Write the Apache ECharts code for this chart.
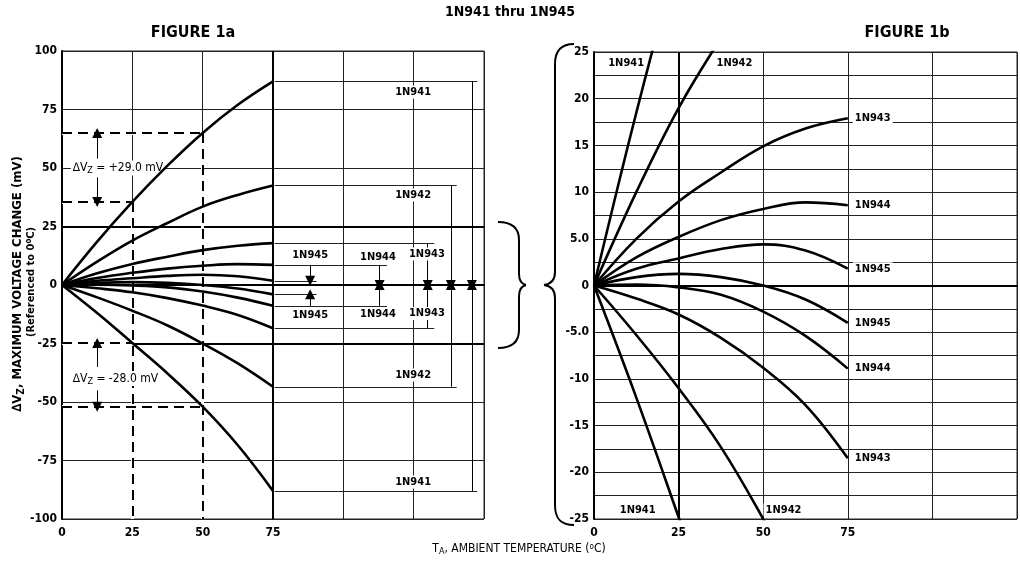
<!DOCTYPE html>
<html>
<head>
<meta charset="utf-8">
<script src="https://cdn.jsdelivr.net/npm/echarts@6/dist/echarts.min.js"></script>
<style>html,body{margin:0;background:#fff}#main{width:1020px;height:563px}</style>
</head>
<body>
<div id="main"></div>
<script>
var FONT = '"Liberation Sans Narrow", "DejaVu Sans Condensed", Roboto, sans-serif';

// temperatures (deg C) where the curves were read
var temps = [0, 12.5, 25, 37.5, 50, 62.5, 75];

// max voltage change (mV), upper and lower limit per device
var up941 = [0, 18.5, 35.5, 51, 65, 77, 87];
var up942 = [0, 10, 19, 26.5, 33.5, 38.5, 42.5];
var up943 = [0, 5, 9, 12.1, 14.9, 16.8, 17.9];
var up944 = [0, 3, 5.2, 7.0, 8.2, 8.9, 8.6];
var up945 = [0, 1.8, 2.9, 3.9, 4.4, 3.75, 1.8];
var lo945 = [0, 0.9, 1.25, 0.9, 0, -1.5, -4.0];
var lo944 = [0, 0.1, -0.2, -1.0, -2.8, -5.4, -8.9];
var lo943 = [0, -1.4, -3.1, -5.6, -8.8, -12.8, -18.5];
var lo942 = [0, -5.3, -11, -17.3, -25, -33.5, -43.5];
var lo941 = [0, -12, -24.8, -37.8, -52, -68.5, -88];

var devices = ['1N941', '1N942', '1N943', '1N944', '1N945'];
var upper = [up941, up942, up943, up944, up945];
var lower = [lo941, lo942, lo943, lo944, lo945];

// tick labels
var xLabels = ['0', '25', '50', '75'];
var yLabelsA = ['-100', '-75', '-50', '-25', '0', '25', '50', '75', '100'];
var yLabelsB = ['-25', '-20', '-15', '-10', '-5.0', '0', '5.0', '10', '15', '20', '25'];

// fig 1a: x where the leader lines stop and where the arrows stand
var leaderEnd = [147.6, 140.3, 132.3, 115.5, 90.5];
var arrowX = [145.7, 138.2, 130, 112.9, 88.2];

var chart = echarts.init(document.getElementById('main'));

function pairs(ys) {
    return temps.map(function (t, i) { return [t, ys[i]]; });
}
function last(a) { return a[a.length - 1]; }

function fmt(list) {
    return function (v) {
        var s = String(v);
        if (Math.abs(v) === 5) s = v < 0 ? '-5.0' : '5.0';
        return list.indexOf(s) >= 0 ? s : '';
    };
}

var labelFont = {fontFamily: FONT, fontSize: 11, fontWeight: 'bold', color: '#000'};
var gridLine = {lineStyle: {color: '#222', width: 1}};

function curve(name, ys, k, withLabel) {
    return {
        name: name, type: 'line', xAxisIndex: k, yAxisIndex: k,
        data: pairs(ys), smooth: 0.4, symbol: 'none', silent: true, clip: true,
        lineStyle: {color: '#000', width: 2.6},
        endLabel: withLabel ? Object.assign({
            show: true, formatter: name, distance: 5,
            backgroundColor: '#fff', padding: [1, 2]
        }, labelFont) : {show: false},
        z: 5
    };
}

var series = [];
devices.forEach(function (d, i) {
    series.push(curve(d, upper[i], 0, false));
    series.push(curve(d, lower[i], 0, false));
    series.push(curve(d, upper[i], 1, i >= 2));
    series.push(curve(d, lower[i], 1, i >= 2));
});

function seg(x1, y1, x2, y2) { return [{coord: [x1, y1]}, {coord: [x2, y2]}]; }
function arrow(x, from, to) { return seg(x, from, x, to); }

// fig 1a: leader lines, arrows and thick lines
var thin = [], arrows = [], thick = [];
devices.forEach(function (d, i) {
    thin.push(seg(75.6, last(upper[i]), leaderEnd[i], last(upper[i])));
    thin.push(seg(75.6, last(lower[i]), leaderEnd[i], last(lower[i])));
    if (i < 4) {
        arrows.push(arrow(arrowX[i], last(upper[i]), 0));
        arrows.push(arrow(arrowX[i], last(lower[i]), 0));
    } else {
        arrows.push(arrow(arrowX[i], last(up944), last(up945)));
        arrows.push(arrow(arrowX[i], last(lo944), last(lo945)));
    }
});
arrows.push(arrow(12.5, 54, up941[4]));
arrows.push(arrow(12.5, 46, up941[2]));
arrows.push(arrow(12.5, -35, lo941[2]));
arrows.push(arrow(12.5, -45, lo941[4]));

thick.push(seg(0, 25, 150, 25), seg(0, 0, 150, 0), seg(25, -25, 150, -25), seg(75, -100, 75, 100));

var dashed = [
    seg(0, up941[4], 50, up941[4]), seg(0, up941[2], 25, up941[2]),
    seg(0, lo941[2], 25, lo941[2]), seg(0, lo941[4], 50, lo941[4]),
    seg(25, up941[2], 25, -100), seg(50, up941[4], 50, -100)
];

function lineSeries(k, data, style, z, symbols) {
    return {
        type: 'line', xAxisIndex: k, yAxisIndex: k, data: [], silent: true, z: z,
        markLine: {
            silent: true, animation: false,
            symbol: symbols || ['none', 'none'], symbolSize: 10,
            label: {show: false}, lineStyle: style,
            emphasis: {disabled: true},
            data: data
        }
    };
}

series.push(lineSeries(0, thin, {color: '#222', width: 1, type: 'solid'}, 3));
series.push(lineSeries(0, thick, {color: '#000', width: 2, type: 'solid'}, 3));
series.push(lineSeries(0, dashed, {color: '#fff', width: 3, type: 'solid'}, 3));
series.push(lineSeries(0, dashed, {color: '#000', width: 2, type: [10, 6]}, 4));
series.push(lineSeries(0, arrows, {color: '#000', width: 1, type: 'solid'}, 4, ['none', 'triangle']));
series.push(lineSeries(1, [seg(0, 0, 125, 0), seg(25, -25, 25, 25)], {color: '#000', width: 2, type: 'solid'}, 3));

// text marks placed in data coordinates
var namesA = [
    ['1N941', 124.8, 82.5], ['1N941', 124.8, -84.2],
    ['1N942', 124.8, 38.5], ['1N942', 124.8, -38.5],
    ['1N943', 129.7, 13.2], ['1N943', 129.7, -12.2],
    ['1N944', 112.3, 11.8], ['1N944', 112.3, -12.4],
    ['1N945', 88.2, 12.8], ['1N945', 88.2, -12.8]
];
var namesB = [
    ['1N941', 9.5, 23.8], ['1N941', 12.9, -24],
    ['1N942', 41.5, 23.8], ['1N942', 56, -24]
];

function textSeries(k, list, extra) {
    return {
        type: 'line', xAxisIndex: k, yAxisIndex: k, data: [], silent: true, z: 6,
        markPoint: {
            silent: true, animation: false, symbol: 'circle', symbolSize: 0,
            label: Object.assign({
                show: true, position: 'inside', formatter: '{b}',
                backgroundColor: '#fff', padding: [1, 2]
            }, labelFont, extra || {}),
            data: list.map(function (n) { return {name: n[0], coord: [n[1], n[2]]}; })
        }
    };
}
series.push(textSeries(0, namesA));
series.push(textSeries(1, namesB));

var dvRich = {
    a: {fontFamily: FONT, fontSize: 12, color: '#000'},
    s: {fontFamily: FONT, fontSize: 9, color: '#000', padding: [6, 0, 0, 0]}
};
series.push(textSeries(0, [
    ['{a|\u2206V}{s|Z}{a| = +29.0 mV}', 19.9, 50],
    ['{a|\u2206V}{s|Z}{a| = -28.0 mV}', 19, -40]
], {fontWeight: 'normal', rich: dvRich, padding: [0, 2]}));

var axisLabel = {fontFamily: FONT, fontSize: 12, fontWeight: 'bold', color: '#000'};

// curly braces drawn from bezier pieces
function brace(p) {
    var st = {fill: 'none', stroke: '#000', lineWidth: 2};
    return p.map(function (s) {
        if (s.length === 4) {
            return {type: 'line', shape: {x1: s[0], y1: s[1], x2: s[2], y2: s[3]}, style: st};
        }
        return {type: 'bezierCurve', shape: {x1: s[0], y1: s[1], cpx1: s[2], cpy1: s[3],
            cpx2: s[4], cpy2: s[5], x2: s[6], y2: s[7]}, style: st};
    });
}
var braceA = brace([
    [498, 222, 512, 222, 519, 228, 519, 240], [519, 240, 519, 274],
    [519, 274, 519, 280, 522, 284, 526, 285], [526, 285, 522, 286, 519, 290, 519, 296],
    [519, 296, 519, 330], [519, 330, 519, 342, 512, 348, 498, 348]
]);
var braceB = brace([
    [574, 44, 560, 44, 555, 52, 555, 64], [555, 64, 555, 272],
    [555, 272, 555, 280, 551, 284, 544, 285], [544, 285, 551, 286, 555, 290, 555, 298],
    [555, 298, 555, 505], [555, 505, 555, 518, 560, 525, 574, 525]
]);

var option = {
    animation: false,
    grid: [
        {left: 62, top: 51, width: 422, height: 468, show: true, borderColor: '#222', borderWidth: 1},
        {left: 594, top: 52, width: 425, height: 467, show: true, borderColor: '#222', borderWidth: 1}
    ],
    xAxis: [
        {type: 'value', gridIndex: 0, min: 0, max: 150, interval: 25,
         axisLine: {lineStyle: {color: '#000', width: 2}}, axisTick: {show: false},
         axisLabel: Object.assign({formatter: fmt(xLabels), margin: 8}, axisLabel),
         splitLine: gridLine},
        {type: 'value', gridIndex: 1, min: 0, max: 125, interval: 25,
         axisLine: {lineStyle: {color: '#000', width: 2}}, axisTick: {show: false},
         axisLabel: Object.assign({formatter: fmt(xLabels), margin: 8}, axisLabel),
         splitLine: gridLine}
    ],
    yAxis: [
        {type: 'value', gridIndex: 0, min: -100, max: 100, interval: 25,
         axisLine: {show: true, lineStyle: {color: '#000', width: 2}}, axisTick: {show: false},
         axisLabel: Object.assign({formatter: fmt(yLabelsA), margin: 5}, axisLabel),
         splitLine: gridLine},
        {type: 'value', gridIndex: 1, min: -25, max: 25, interval: 2.5,
         axisLine: {show: true, lineStyle: {color: '#000', width: 2}}, axisTick: {show: false},
         axisLabel: Object.assign({formatter: fmt(yLabelsB), margin: 5, interval: 0}, axisLabel),
         splitLine: gridLine}
    ],
    graphic: [
        {type: 'text', x: 510, y: 12, style: {text: '1N941 thru 1N945', font: 'bold 14px ' + FONT,
            textAlign: 'center', textVerticalAlign: 'middle', fill: '#000'}},
        {type: 'text', x: 193, y: 33, style: {text: 'FIGURE 1a', font: 'bold 16px ' + FONT,
            textAlign: 'center', textVerticalAlign: 'middle', fill: '#000'}},
        {type: 'text', x: 907, y: 33, style: {text: 'FIGURE 1b', font: 'bold 16px ' + FONT,
            textAlign: 'center', textVerticalAlign: 'middle', fill: '#000'}},
        {type: 'text', x: 18, y: 284, rotation: Math.PI / 2, style: {
            text: '{a|\u2206V}{s|Z}{a|, MAXIMUM VOLTAGE CHANGE (mV)}',
            textAlign: 'center', textVerticalAlign: 'middle',
            rich: {
                a: {fontFamily: FONT, fontSize: 13, fontWeight: 'bold', fill: '#000'},
                s: {fontFamily: FONT, fontSize: 10, fontWeight: 'bold', fill: '#000', padding: [6, 0, 0, 0]}
            }}},
        {type: 'text', x: 31, y: 282, rotation: Math.PI / 2, style: {
            text: '{a|(Referenced to 0}{o|o}{a|C)}',
            textAlign: 'center', textVerticalAlign: 'middle',
            rich: {
                a: {fontFamily: FONT, fontSize: 11, fontWeight: 'bold', fill: '#000'},
                o: {fontFamily: FONT, fontSize: 8, fontWeight: 'bold', fill: '#000', padding: [0, 0, 5, 0]}
            }}},
        {type: 'text', x: 519, y: 549, style: {
            text: '{a|T}{s|A}{a|, AMBIENT TEMPERATURE (}{o|o}{a|C)}',
            textAlign: 'center', textVerticalAlign: 'middle',
            rich: {
                a: {fontFamily: FONT, fontSize: 12, fill: '#000'},
                s: {fontFamily: FONT, fontSize: 9, fill: '#000', padding: [6, 0, 0, 0]},
                o: {fontFamily: FONT, fontSize: 8, fill: '#000', padding: [0, 0, 5, 0]}
            }}}
    ].concat(braceA, braceB),
    series: series
};

chart.setOption(option);
</script>
</body>
</html>
